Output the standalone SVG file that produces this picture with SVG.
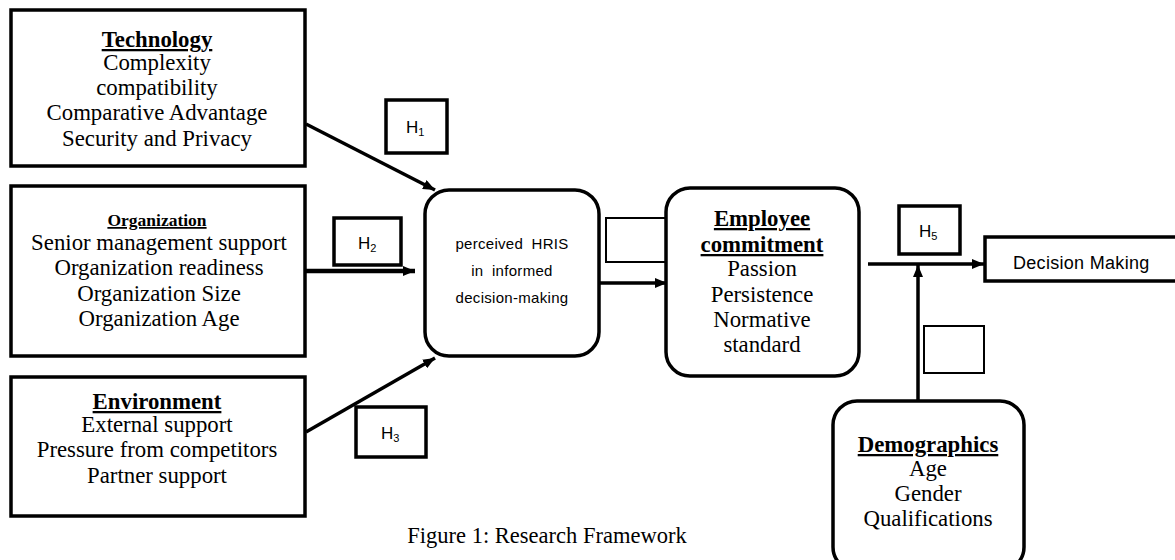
<svg xmlns="http://www.w3.org/2000/svg" width="1175" height="560" viewBox="0 0 1175 560">
<defs>
<marker id="ah" viewBox="0 0 12 10" refX="12" refY="5" markerWidth="12" markerHeight="10" markerUnits="userSpaceOnUse" orient="auto">
<path d="M0,0 L12,5 L0,10 Z" fill="#000"/>
</marker>
<style>
.box{fill:#fff;stroke:#000;stroke-width:3.5}
.thin{fill:#fff;stroke:#000;stroke-width:2}
.ser{font-family:"Liberation Serif","Times New Roman",serif;font-size:22.8px;fill:#000;text-anchor:middle}
.hd{font-weight:bold;text-decoration:underline}
.small{font-size:17.5px}
.cap{font-size:22.5px}
.sans{font-family:"Liberation Sans",Arial,sans-serif;fill:#000}
.hl{font-size:17px}
.sub{font-size:11px}
.hris{font-size:15px;text-anchor:middle;word-spacing:4px;letter-spacing:0.3px}
.con{stroke:#000;stroke-width:3.5;fill:none}
</style>
</defs>
<rect width="1175" height="560" fill="#fff"/>

<g id="connectors">
<line class="con" x1="306" y1="124" x2="435" y2="190" marker-end="url(#ah)"/>
<line class="con" x1="306" y1="271" x2="415" y2="271" style="stroke-width:4.5" marker-end="url(#ah)"/>
<line class="con" x1="306" y1="432" x2="435" y2="358" marker-end="url(#ah)"/>
<line class="con" x1="598" y1="283" x2="667" y2="283" marker-end="url(#ah)"/>
<line class="con" x1="868" y1="264" x2="984" y2="264" marker-end="url(#ah)"/>
<line class="con" x1="918" y1="400" x2="918" y2="265" marker-end="url(#ah)"/>
</g>

<g id="technology">
<rect class="box" x="11" y="10" width="294" height="156"/>
<text class="ser hd" x="157" y="47">Technology</text>
<text class="ser" x="157" y="70">Complexity</text>
<text class="ser" x="157" y="95">compatibility</text>
<text class="ser" x="157" y="120">Comparative Advantage</text>
<text class="ser" x="157" y="146">Security and Privacy</text>
</g>

<g id="organization">
<rect class="box" x="11" y="186" width="294" height="170"/>
<text class="ser hd small" x="157" y="226">Organization</text>
<text class="ser" x="159" y="250">Senior management support</text>
<text class="ser" x="159" y="275">Organization readiness</text>
<text class="ser" x="159" y="301">Organization Size</text>
<text class="ser" x="159" y="326">Organization Age</text>
</g>

<g id="environment">
<rect class="box" x="11" y="377" width="294" height="139"/>
<text class="ser hd" x="157" y="409">Environment</text>
<text class="ser" x="157" y="432">External support</text>
<text class="ser" x="157" y="457">Pressure from competitors</text>
<text class="ser" x="157" y="483">Partner support</text>
</g>

<g id="h1">
<rect class="box" x="386" y="100" width="61" height="53"/>
<text class="sans hl" x="406" y="133">H<tspan class="sub" dy="3">1</tspan></text>
</g>
<g id="h2">
<rect class="box" x="334" y="218" width="67" height="47"/>
<text class="sans hl" x="358" y="249">H<tspan class="sub" dy="3">2</tspan></text>
</g>
<g id="h3">
<rect class="box" x="356" y="407" width="70" height="50"/>
<text class="sans hl" x="381" y="439">H<tspan class="sub" dy="3">3</tspan></text>
</g>

<g id="hris">
<rect class="box" x="425" y="190" width="174" height="166" rx="24"/>
<text class="sans hris" x="512" y="249">perceived HRIS</text>
<text class="sans hris" x="512" y="276">in informed</text>
<text class="sans hris" x="512" y="303">decision-making</text>
</g>

<g id="h4">
<rect class="thin" x="606" y="218" width="61" height="44"/>
</g>

<g id="employee">
<rect class="box" x="666" y="188" width="193" height="188" rx="24"/>
<text class="ser hd" x="762" y="226">Employee</text>
<text class="ser hd" x="762" y="252">commitment</text>
<text class="ser" x="762" y="276">Passion</text>
<text class="ser" x="762" y="302">Persistence</text>
<text class="ser" x="762" y="327">Normative</text>
<text class="ser" x="762" y="352">standard</text>
</g>

<g id="h5">
<rect class="box" x="899" y="206" width="61" height="48"/>
<text class="sans hl" x="919" y="237">H<tspan class="sub" dy="3">5</tspan></text>
</g>

<g id="decision">
<rect class="box" x="985" y="237" width="200" height="44"/>
<text class="sans" x="1013" y="269" style="font-size:18px;letter-spacing:0.3px">Decision Making</text>
</g>

<g id="h6">
<rect class="thin" x="924" y="326" width="60" height="47"/>
</g>

<g id="demographics">
<rect class="box" x="833" y="401" width="191" height="170" rx="24"/>
<text class="ser hd" x="928" y="452">Demographics</text>
<text class="ser" x="928" y="476">Age</text>
<text class="ser" x="928" y="501">Gender</text>
<text class="ser" x="928" y="526">Qualifications</text>
</g>

<text class="ser cap" x="547" y="543">Figure 1: Research Framework</text>
</svg>
